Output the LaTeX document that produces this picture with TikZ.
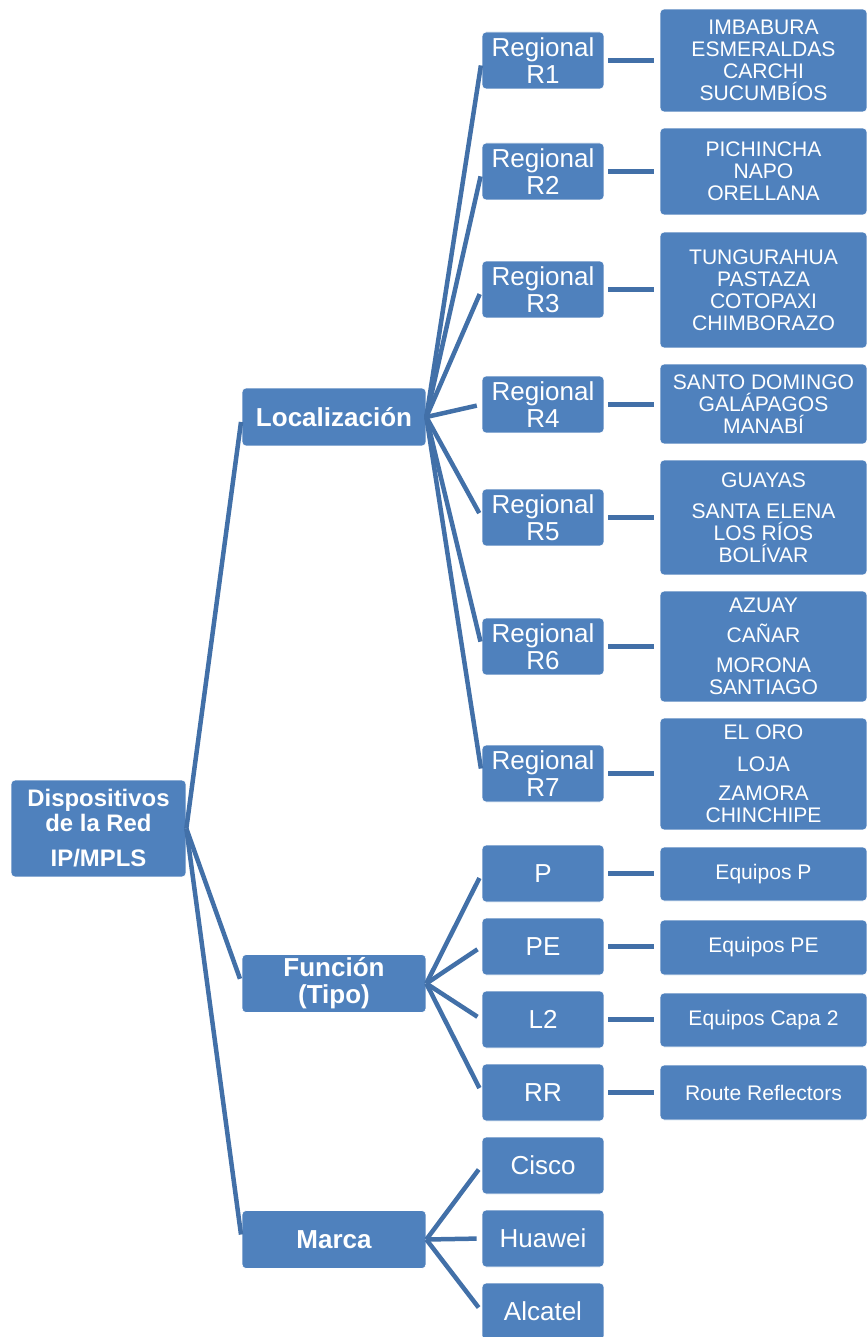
\documentclass[tikz,border=0pt]{standalone}
\usepackage{fontspec}
\setmainfont{Liberation Sans}
\definecolor{boxblue}{RGB}{79,129,189}
\definecolor{linkblue}{RGB}{66,112,168}

\begin{document}
\begin{tikzpicture}[x=0.02cm,y=-0.02cm,
    box/.style={rectangle, rounded corners=0.08cm, fill=boxblue, draw=white,
      line width=0.4pt, text=white, align=center, inner sep=0pt},
    rootbox/.style={box, minimum width=3.5cm, minimum height=1.94cm,
      font=\bfseries\fontsize{13.6}{14.2}\selectfont},
    groupbox/.style={box, minimum width=3.68cm, minimum height=1.16cm,
      font=\bfseries\fontsize{14.8}{15.4}\selectfont},
    itembox/.style={box, minimum width=2.44cm, minimum height=1.14cm,
      font=\fontsize{14.8}{15.4}\selectfont},
    detailbox/.style={box, minimum width=4.14cm,
      font=\fontsize{12}{12.5}\selectfont},
    link/.style={draw=linkblue, line width=0.09cm, shorten >=0.1cm}]
    \useasboundingbox (0,0) rectangle (867,1337);

    % root and groups
    \node[rootbox] (red) at (98.5,828.5) {Dispositivos\\de la Red\\[5.7pt]IP/MPLS};
    \node[groupbox] (loc) at (334,417) {Localización};
    \node[groupbox] (fun) at (334,983.5) {Función\\(Tipo)};
    \node[groupbox] (mar) at (334,1239.5) {Marca};

    % regionales
    \node[itembox] (r1) at (543,60.5) {Regional\\R1};
    \node[itembox] (r2) at (543,171.5) {Regional\\R2};
    \node[itembox] (r3) at (543,289.5) {Regional\\R3};
    \node[itembox] (r4) at (543,404.5) {Regional\\R4};
    \node[itembox] (r5) at (543,517.5) {Regional\\R5};
    \node[itembox] (r6) at (543,646.5) {Regional\\R6};
    \node[itembox] (r7) at (543,773.5) {Regional\\R7};
    \node[detailbox, minimum height=2.06cm] (p1) at (763.5,60.5)
      {IMBABURA\\ESMERALDAS\\CARCHI\\SUCUMBÍOS};
    \node[detailbox, minimum height=1.74cm] (p2) at (763.5,171.5)
      {PICHINCHA\\NAPO\\ORELLANA};
    \node[detailbox, minimum height=2.32cm] (p3) at (763.5,290)
      {TUNGURAHUA\\PASTAZA\\COTOPAXI\\CHIMBORAZO};
    \node[detailbox, minimum height=1.6cm] (p4) at (763.5,404)
      {SANTO DOMINGO\\GALÁPAGOS\\MANABÍ};
    \node[detailbox, minimum height=2.3cm] (p5) at (763.5,517.5)
      {GUAYAS\\[5pt]SANTA ELENA\\LOS RÍOS\\BOLÍVAR};
    \node[detailbox, minimum height=2.22cm] (p6) at (763.5,646.5)
      {AZUAY\\[4.5pt]CAÑAR\\[5pt]MORONA\\SANTIAGO};
    \node[detailbox, minimum height=2.24cm] (p7) at (763.5,774)
      {EL ORO\\[5.5pt]LOJA\\[4pt]ZAMORA\\CHINCHIPE};

    % funcion
    \node[itembox] (tp) at (543,873.5) {P};
    \node[itembox] (tpe) at (543,946.5) {PE};
    \node[itembox] (tl2) at (543,1019.5) {L2};
    \node[itembox] (trr) at (543,1092.5) {RR};
    \node[detailbox, minimum height=1.08cm] (ep) at (763.5,874) {Equipos P};
    \node[detailbox, minimum height=1.1cm] (epe) at (763.5,947.5) {Equipos PE};
    \node[detailbox, minimum height=1.08cm] (el2) at (763.5,1020) {Equipos Capa 2};
    \node[detailbox, minimum height=1.1cm] (err) at (763.5,1092.5) {Route Reflectors};

    % marca
    \node[itembox] (cis) at (543,1165.5) {Cisco};
    \node[itembox] (hua) at (543,1238.5) {Huawei};
    \node[itembox] (alc) at (543,1311.5) {Alcatel};

    % connectors
    \foreach \g in {loc,fun,mar}
      \draw[link] (red.east) -- (\g.west);
    \foreach \r in {r1,r2,r3,r4,r5,r6,r7}
      \draw[link] (loc.east) -- (\r.west);
    \foreach \t in {tp,tpe,tl2,trr}
      \draw[link] (fun.east) -- (\t.west);
    \foreach \m in {cis,hua,alc}
      \draw[link] (mar.east) -- (\m.west);
    \foreach \a/\b in {r1/p1,r2/p2,r3/p3,r4/p4,r5/p5,r6/p6,r7/p7,tp/ep,tpe/epe,tl2/el2,trr/err}
      \draw[link, shorten <=0.08cm, shorten >=0.12cm] (\a.east) -- (\a.east -| \b.west);
\end{tikzpicture}
\end{document}
